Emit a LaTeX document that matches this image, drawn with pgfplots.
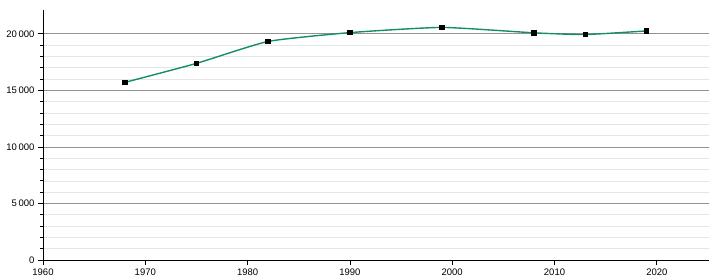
\documentclass[border=0pt]{standalone}
\usepackage{pgfplots}
\pgfplotsset{compat=1.18}
\usepackage{fontspec}
\setmainfont{Liberation Sans}
\definecolor{lineg}{RGB}{22,140,105}
\begin{document}
\begin{tikzpicture}[x=1pt,y=1pt]
\useasboundingbox (-43,-20) rectangle (677,260);
\begin{axis}[
  at={(0,0)}, anchor=south west,
  scale only axis, width=666pt, height=250pt,
  xmin=1960, xmax=2025.1, ymin=0, ymax=22100,
  axis lines=left, axis line style={-, black, line width=0.9pt},
  xtick={1960,1970,...,2020},
  ytick={0,5000,...,20000},
  scaled ticks=false,
  minor y tick num=4,
  ymajorgrids, yminorgrids,
  major grid style={gray!85, line width=0.6pt},
  minor grid style={black!10, line width=0.6pt},
  tick style={black, line width=0.7pt},
  major tick length=5pt, minor tick length=3pt,
  tick align=outside,
  font=\fontsize{9.5}{11}\selectfont,
  /pgf/number format/assume math mode=true,
  xticklabel style={/pgf/number format/1000 sep={}},
  yticklabel style={/pgf/number format/1000 sep={\,}},
  clip=false,
]
\addplot[lineg, line width=1.4pt, smooth, tension=0.3, mark=square*, mark size=2.2pt,
  mark options={black, fill=black, line width=0pt}] coordinates {
  (1968,15700) (1975,17380) (1982,19320) (1990,20100) (1999,20560)
  (2008,20080) (2013,19930) (2019,20250)
};
\end{axis}
\end{tikzpicture}
\end{document}
